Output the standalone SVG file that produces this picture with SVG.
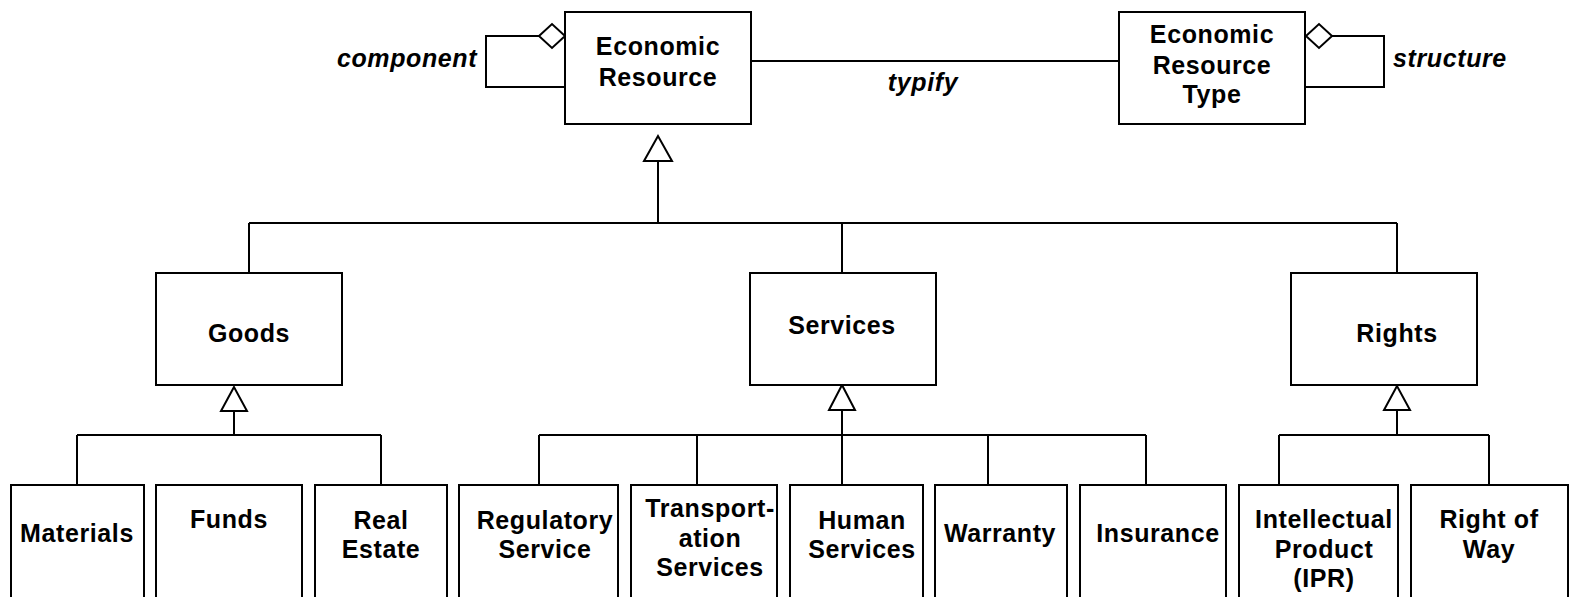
<svg xmlns="http://www.w3.org/2000/svg" width="1570" height="597" viewBox="0 0 1570 597">
<style>
.box{fill:#fff;stroke:#000;stroke-width:2}
.ln{fill:none;stroke:#000;stroke-width:2}
.tri{fill:#fff;stroke:#000;stroke-width:2;stroke-linejoin:miter}
text{font-family:"Liberation Sans",Arial,sans-serif;font-weight:bold;font-size:25px;letter-spacing:0.6px;fill:#000;text-anchor:middle}
.it{font-style:italic}
</style>
<rect width="1570" height="597" fill="#fff"/>
<g id="connectors">
<path class="ln" d="M539,36 H486 V87 H565"/>
<polygon class="tri" points="539,36 552,24 565,36 552,48"/>
<path class="ln" d="M1332,36 H1384 V87 H1306"/>
<polygon class="tri" points="1306,36 1319,24 1332,36 1319,48"/>
<line class="ln" x1="751" y1="61" x2="1119" y2="61"/>
<path class="ln" d="M658,161 V223 M249,223 H1397 M249,223 V273 M842,223 V273 M1397,223 V273"/>
<polygon class="tri" points="658,136 644,161 672,161"/>
<path class="ln" d="M234,411 V435 M77,435 H381 M77,435 V485 M381,435 V485"/>
<polygon class="tri" points="234,387 221,411 247,411"/>
<path class="ln" d="M842,410 V485 M539,435 H1146 M539,435 V485 M697,435 V485 M988,435 V485 M1146,435 V485"/>
<polygon class="tri" points="842,385 829,410 855,410"/>
<path class="ln" d="M1397,410 V435 M1279,435 H1489 M1279,435 V485 M1489,435 V485"/>
<polygon class="tri" points="1397,386 1384,410 1410,410"/>
<text class="it" x="407" y="67">component</text>
<text class="it" x="923" y="91">typify</text>
<text class="it" x="1450" y="67">structure</text>
</g>
<g id="economic-resource">
<rect class="box" x="565" y="12" width="186" height="112"/>
<text x="658" y="55">Economic</text>
<text x="658" y="86">Resource</text>
</g>
<g id="economic-resource-type">
<rect class="box" x="1119" y="12" width="186" height="112"/>
<text x="1212" y="43">Economic</text>
<text x="1212" y="74">Resource</text>
<text x="1212" y="103">Type</text>
</g>
<g id="goods">
<rect class="box" x="156" y="273" width="186" height="112"/>
<text x="249" y="342">Goods</text>
</g>
<g id="services">
<rect class="box" x="750" y="273" width="186" height="112"/>
<text x="842" y="334">Services</text>
</g>
<g id="rights">
<rect class="box" x="1291" y="273" width="186" height="112"/>
<text x="1397" y="342">Rights</text>
</g>
<g id="materials">
<rect class="box" x="11" y="485" width="133" height="125"/>
<text x="77" y="542">Materials</text>
</g>
<g id="funds">
<rect class="box" x="156" y="485" width="146" height="125"/>
<text x="229" y="528">Funds</text>
</g>
<g id="real-estate">
<rect class="box" x="315" y="485" width="132" height="125"/>
<text x="381" y="529">Real</text>
<text x="381" y="558">Estate</text>
</g>
<g id="regulatory-service">
<rect class="box" x="459" y="485" width="159" height="125"/>
<text x="545" y="529">Regulatory</text>
<text x="545" y="558">Service</text>
</g>
<g id="transportation-services">
<rect class="box" x="631" y="485" width="146" height="125"/>
<text x="710" y="517">Transport-</text>
<text x="710" y="547">ation</text>
<text x="710" y="576">Services</text>
</g>
<g id="human-services">
<rect class="box" x="790" y="485" width="133" height="125"/>
<text x="862" y="529">Human</text>
<text x="862" y="558">Services</text>
</g>
<g id="warranty">
<rect class="box" x="935" y="485" width="132" height="125"/>
<text x="1000" y="542">Warranty</text>
</g>
<g id="insurance">
<rect class="box" x="1080" y="485" width="146" height="125"/>
<text x="1158" y="542">Insurance</text>
</g>
<g id="intellectual-product">
<rect class="box" x="1239" y="485" width="159" height="125"/>
<text x="1324" y="528">Intellectual</text>
<text x="1324" y="558">Product</text>
<text x="1324" y="587">(IPR)</text>
</g>
<g id="right-of-way">
<rect class="box" x="1411" y="485" width="157" height="125"/>
<text x="1489" y="528">Right of</text>
<text x="1489" y="558">Way</text>
</g>
</svg>
